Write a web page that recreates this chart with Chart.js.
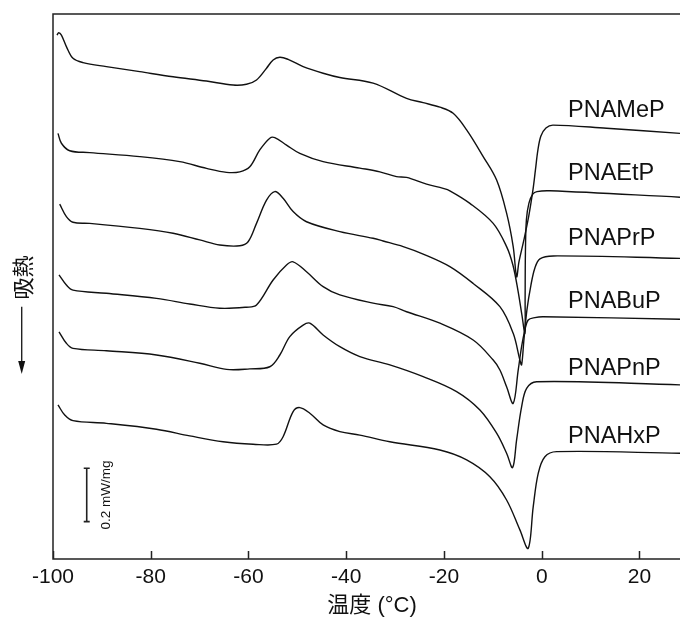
<!DOCTYPE html>
<html>
<head>
<meta charset="utf-8">
<script src="https://cdn.jsdelivr.net/npm/chart.js@4.4.1/dist/chart.umd.min.js"></script>
<style>
  html, body { margin: 0; padding: 0; background: #fff; }
  #dsc { display: block; }
</style>
</head>
<body>
<canvas id="dsc" width="680" height="619"></canvas>
<script>
// DSC heating curves: temperature (°C) and heat flow (mW/mg, curves shifted apart)
var names = ['PNAMeP', 'PNAEtP', 'PNAPrP', 'PNABuP', 'PNAPnP', 'PNAHxP'];

var tMeP = [-99.18,-98.83,-98.28,-97.26,-95.91,-93.86,-89.07,-82.25,-75.43,-68.60,-63.15,-60.41,-58.36,-56.31,-54.96,-53.59,-51.89,-48.82,-44.73,-41.31,-34.50,-27.66,-24.26,-20.84,-18.12,-15.37,-11.98,-9.23,-7.19,-5.84,-5.14,-4.67,-3.65,-2.62,-1.80,-1.29,-0.78,-0.17,0.86,2.29,13.28,28.29];
var hMeP = [1.962,1.971,1.962,1.919,1.875,1.859,1.844,1.825,1.806,1.790,1.775,1.778,1.794,1.838,1.869,1.879,1.871,1.844,1.819,1.803,1.782,1.725,1.709,1.692,1.669,1.607,1.507,1.419,1.295,1.170,1.057,1.112,1.195,1.288,1.382,1.457,1.532,1.584,1.614,1.625,1.613,1.594];

var tEtP = [-98.98,-98.28,-96.58,-92.49,-82.25,-74.06,-68.60,-64.50,-61.78,-59.73,-57.69,-55.64,-54.62,-52.22,-49.50,-44.73,-37.22,-33.12,-29.71,-27.66,-23.56,-20.17,-18.80,-14.70,-9.93,-7.19,-5.90,-4.88,-4.06,-3.44,-3.40,-3.34,-3.14,-2.62,-1.80,-0.99,1.68,28.29];
var hEtP = [1.594,1.557,1.529,1.522,1.507,1.488,1.463,1.448,1.450,1.469,1.532,1.576,1.578,1.550,1.519,1.488,1.464,1.450,1.432,1.429,1.404,1.388,1.379,1.332,1.257,1.170,1.101,1.007,0.914,0.845,0.970,1.146,1.270,1.333,1.367,1.376,1.379,1.355];

var tPrP = [-98.63,-97.26,-95.91,-92.49,-82.25,-75.43,-69.97,-65.88,-61.78,-60.08,-58.36,-56.31,-54.62,-52.92,-50.87,-48.13,-41.31,-34.50,-32.45,-28.35,-24.26,-18.80,-14.03,-8.56,-5.84,-4.47,-4.12,-3.65,-3.03,-2.21,-1.40,-0.37,2.35,28.29];
var hPrP = [1.329,1.282,1.261,1.257,1.238,1.220,1.195,1.176,1.173,1.188,1.257,1.344,1.376,1.351,1.301,1.263,1.226,1.201,1.191,1.170,1.142,1.095,1.032,0.945,0.845,0.745,0.727,0.820,0.933,1.026,1.090,1.124,1.135,1.126];

var tBuP = [-98.77,-97.26,-95.91,-89.07,-78.83,-72.02,-65.88,-60.41,-58.36,-54.96,-52.22,-50.87,-48.13,-44.73,-41.31,-34.50,-30.40,-27.66,-20.84,-14.03,-9.93,-8.56,-7.19,-5.84,-4.81,-4.12,-3.44,-2.77,-1.40,0.30,28.29];
var hBuP = [1.064,1.026,1.007,0.995,0.976,0.955,0.939,0.943,0.951,1.045,1.101,1.113,1.076,1.020,0.989,0.958,0.945,0.926,0.883,0.820,0.745,0.708,0.645,0.583,0.708,0.795,0.858,0.895,0.904,0.907,0.898];

var tPnP = [-98.77,-97.26,-95.91,-89.07,-78.83,-69.97,-64.50,-59.73,-55.64,-53.59,-51.55,-48.82,-47.45,-44.73,-41.31,-37.22,-31.08,-24.26,-17.42,-12.65,-9.23,-7.19,-5.96,-5.14,-4.12,-3.09,-1.05,28.29];
var hPnP = [0.851,0.808,0.789,0.780,0.764,0.733,0.710,0.712,0.720,0.764,0.833,0.876,0.883,0.839,0.795,0.758,0.727,0.683,0.627,0.558,0.471,0.396,0.342,0.446,0.570,0.639,0.664,0.652];

var tHxP = [-98.98,-97.60,-95.91,-89.07,-78.83,-72.02,-65.20,-59.06,-54.27,-52.92,-50.87,-49.50,-47.45,-44.73,-41.31,-37.22,-31.08,-20.84,-15.37,-10.61,-7.19,-4.47,-2.77,-1.74,-0.72,0.65,3.05,28.29];
var hHxP = [0.577,0.539,0.518,0.508,0.486,0.461,0.439,0.430,0.430,0.458,0.552,0.567,0.546,0.502,0.477,0.464,0.439,0.408,0.371,0.308,0.221,0.109,0.040,0.196,0.321,0.383,0.402,0.396];

var xTicks = [-100, -80, -60, -40, -20, 0, 20];

// scale bar
var barAt = -93.1, barFrom = 0.14, barSize = 0.2;

var temps = [tMeP, tEtP, tPrP, tBuP, tPnP, tHxP];
var flows = [hMeP, hEtP, hPrP, hBuP, hPnP, hHxP];

var sets = names.map(function(n, k) {
  return {
    label: n,
    data: temps[k].map(function(t, i) { return { x: t, y: flows[k][i] }; }),
    borderColor: '#111',
    borderWidth: 1.4,
    pointRadius: 0,
    fill: false,
    tension: 0.35
  };
});

var latin = "'Liberation Sans', Arial, sans-serif";
var labelBase = [117, 180, 245, 308, 375, 443];

var decor = {
  id: 'decor',
  afterDraw: function(chart) {
    var ctx = chart.ctx, a = chart.chartArea;
    var xs = chart.scales.x, ys = chart.scales.y;
    ctx.save();

    // frame + inward ticks
    ctx.strokeStyle = '#222';
    ctx.lineWidth = 1.5;
    ctx.beginPath();
    ctx.moveTo(a.right + 2, a.top); ctx.lineTo(a.left, a.top);
    ctx.lineTo(a.left, a.bottom); ctx.lineTo(a.right + 2, a.bottom);
    xTicks.forEach(function(v) {
      var px = Math.round(xs.getPixelForValue(v)) + 0.5;
      ctx.moveTo(px, a.bottom); ctx.lineTo(px, a.bottom - 8);
    });
    ctx.stroke();

    // curve names
    ctx.fillStyle = '#111';
    ctx.font = '23.5px ' + latin;
    ctx.textAlign = 'left';
    ctx.textBaseline = 'alphabetic';
    names.forEach(function(n, k) { ctx.fillText(n, 568, labelBase[k]); });

    // scale bar
    var bx = xs.getPixelForValue(barAt);
    var y0 = ys.getPixelForValue(barFrom), y1 = ys.getPixelForValue(barFrom + barSize);
    ctx.lineWidth = 1.6;
    ctx.beginPath();
    ctx.moveTo(bx, y0); ctx.lineTo(bx, y1);
    ctx.moveTo(bx - 3, y0); ctx.lineTo(bx + 3, y0);
    ctx.moveTo(bx - 3, y1); ctx.lineTo(bx + 3, y1);
    ctx.stroke();
    ctx.save();
    ctx.translate(bx + 19.7, (y0 + y1) / 2);
    ctx.rotate(-Math.PI / 2);
    ctx.font = '13.5px ' + latin;
    ctx.textAlign = 'center';
    ctx.textBaseline = 'middle';
    ctx.fillText('0.2 mW/mg', 0, 0);
    ctx.restore();

    // y label: arrow + 吸熱
    ctx.lineWidth = 1.4;
    ctx.beginPath();
    ctx.moveTo(21.7, 306.7); ctx.lineTo(21.7, 363);
    ctx.stroke();
    ctx.beginPath();
    ctx.moveTo(21.7, 374); ctx.lineTo(18.2, 361); ctx.lineTo(25.2, 361);
    ctx.closePath();
    ctx.fill();
    ctx.save();
    ctx.translate(23, 277.5);
    ctx.rotate(-Math.PI / 2);
    ctx.font = "22px 'Noto Sans CJK JP', sans-serif";
    ctx.textAlign = 'center';
    ctx.textBaseline = 'middle';
    ctx.fillText('吸熱', 0, 0);
    ctx.restore();

    // x title
    ctx.font = "22px 'Liberation Sans', 'Noto Sans CJK JP', sans-serif";
    ctx.textAlign = 'center';
    ctx.textBaseline = 'middle';
    ctx.fillText('温度 (°C)', 372, 606);

    ctx.restore();
  }
};

new Chart(document.getElementById('dsc'), {
  type: 'line',
  data: { datasets: sets },
  options: {
    responsive: false,
    animation: false,
    devicePixelRatio: 1,
    layout: { padding: { left: 53, top: 14, right: 0, bottom: 0 } },
    plugins: { legend: { display: false }, tooltip: { enabled: false } },
    scales: {
      x: {
        type: 'linear',
        min: -100,
        max: 28.29,
        afterBuildTicks: function(s) { s.ticks = xTicks.map(function(v) { return { value: v }; }); },
        afterFit: function(s) { s.height = 60; },
        grid: { display: false, drawTicks: false },
        border: { display: false },
        ticks: {
          autoSkip: false,
          maxRotation: 0,
          padding: 6,
          color: '#111',
          font: { family: latin, size: 21 },
          callback: function(v) { return String(v); }
        }
      },
      y: { display: false, min: 0, max: 2.041 }
    }
  },
  plugins: [decor]
});
</script>
</body>
</html>
